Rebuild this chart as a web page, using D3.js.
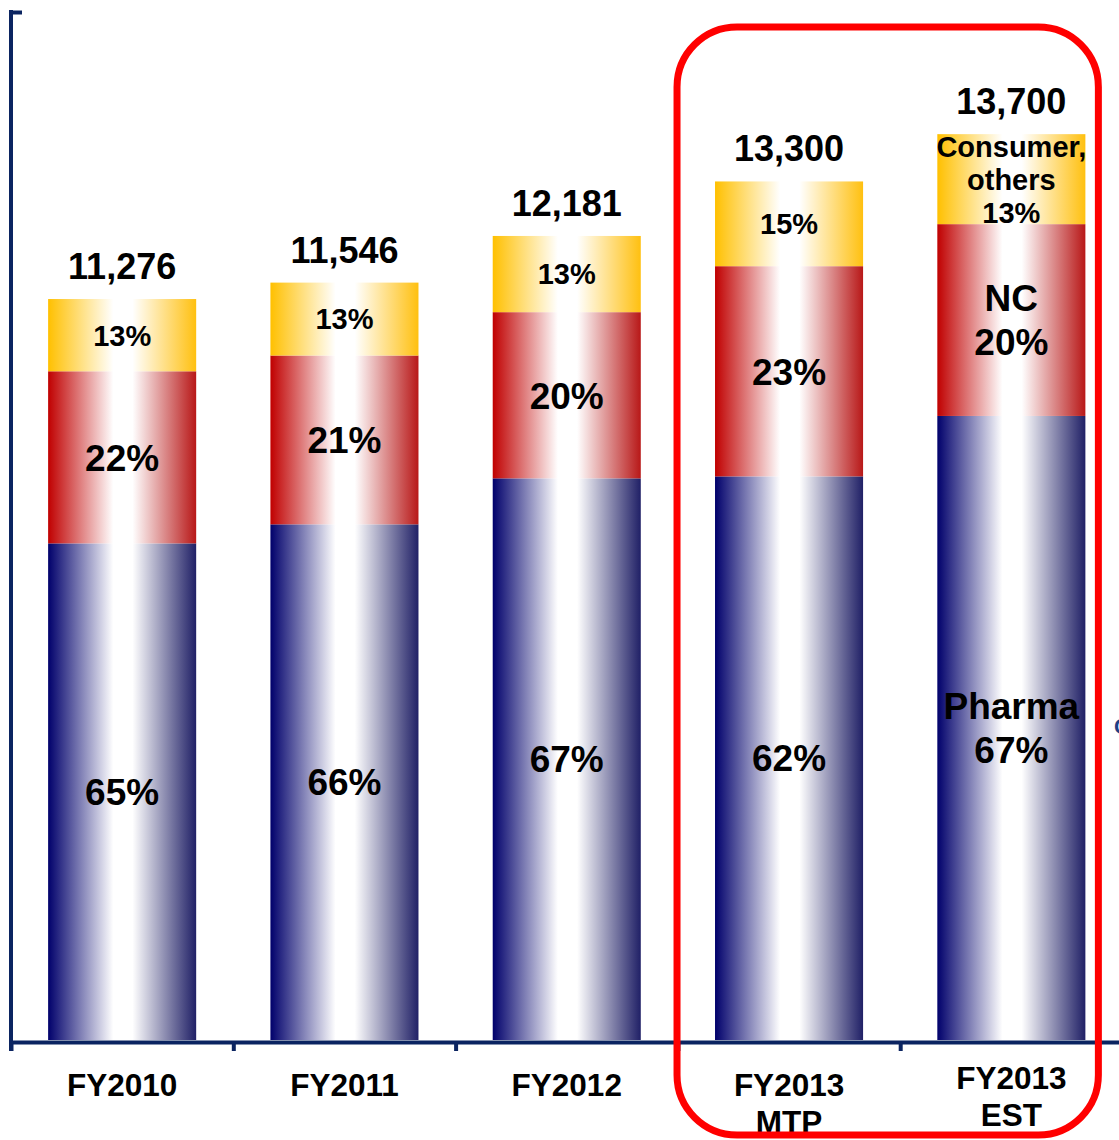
<!DOCTYPE html>
<html>
<head>
<meta charset="utf-8">
<script src="https://cdn.jsdelivr.net/npm/d3@7"></script>
<style>
  body { margin: 0; background: #fff; }
  text { font-family: "Liberation Sans", Arial, sans-serif; font-weight: bold; fill: #000; }
</style>
</head>
<body>
<div id="chart"></div>
<script>
// Data (segment sizes as drawn)
var categories = ["FY2010", "FY2011", "FY2012", "FY2013 MTP", "FY2013 EST"];
var xLabels = [["FY2010"], ["FY2011"], ["FY2012"], ["FY2013", "MTP"], ["FY2013", "EST"]];
var totals = ["11,276", "11,546", "12,181", "13,300", "13,700"];
var pharma = [7560, 7850, 8550, 8580, 9500];
var nc = [2620, 2570, 2530, 3200, 2920];
var consumer = [1100, 1110, 1160, 1290, 1370];
var pharmaLabels = [["65%"], ["66%"], ["67%"], ["62%"], ["Pharma", "67%"]];
var ncLabels = [["22%"], ["21%"], ["20%"], ["23%"], ["NC", "20%"]];
var consumerLabels = [["13%"], ["13%"], ["13%"], ["15%"], ["Consumer,", "others", "13%"]];
var highlighted = ["FY2013 MTP", "FY2013 EST"];

// Layout
var width = 1119;
var height = 1140;
var leftX = 11;
var baseline = 1040;
var topY = 10;
var yMax = 15680;
var step = 222.3;

var svg = d3.select("#chart").append("svg")
  .attr("width", width)
  .attr("height", height);

var x = d3.scaleBand()
  .domain(categories)
  .range([leftX, leftX + categories.length * step])
  .paddingInner(0.334)
  .paddingOuter(0.167);

var y = d3.scaleLinear()
  .domain([0, yMax])
  .range([baseline, topY]);

/* Gradients */
var defs = svg.append("defs");
var gradients = [
  {id: "gBlue", left: "#00006b", right: "#202066"},
  {id: "gRed", left: "#c00000", right: "#b81818"},
  {id: "gYellow", left: "#ffc000", right: "#ffc010"}
];
gradients.forEach(g => {
  var lg = defs.append("linearGradient")
    .attr("id", g.id)
    .attr("x1", "0").attr("x2", "1").attr("y1", "0").attr("y2", "0");
  lg.append("stop").attr("offset", "0").attr("stop-color", g.left);
  lg.append("stop").attr("offset", "0.44").attr("stop-color", "#ffffff");
  lg.append("stop").attr("offset", "0.57").attr("stop-color", "#ffffff");
  lg.append("stop").attr("offset", "1").attr("stop-color", g.right);
});

// stacked series
var rows = categories.map((c, i) => ({cat: c, pharma: pharma[i], nc: nc[i], consumer: consumer[i]}));
var stack = d3.stack().keys(["pharma", "nc", "consumer"]);
var series = stack(rows);
var fills = {pharma: "url(#gBlue)", nc: "url(#gRed)", consumer: "url(#gYellow)"};
var labelSets = {pharma: pharmaLabels, nc: ncLabels, consumer: consumerLabels};
var fontSizes = {pharma: 37, nc: 37, consumer: 29};
var lineHeights = {pharma: 44, nc: 44, consumer: 33};

var bars = svg.append("g").attr("class", "bars");

series.forEach(s => {
  bars.append("g")
    .attr("fill", fills[s.key])
    .selectAll("rect")
    .data(s).enter()
    .append("rect")
    .attr("x", d => x(d.data.cat))
    .attr("y", d => y(d[1]))
    .attr("width", x.bandwidth())
    .attr("height", d => y(d[0]) - y(d[1]));
});

// segment labels
series.forEach(s => {
  var size = fontSizes[s.key];
  var lh = lineHeights[s.key];
  s.forEach((d, i) => {
    var lines = labelSets[s.key][i];
    var center = (y(d[0]) + y(d[1])) / 2;
    var t = svg.append("text")
      .attr("text-anchor", "middle")
      .attr("font-size", size + "px");
    lines.forEach((line, j) => {
      t.append("tspan")
        .attr("x", x(d.data.cat) + x.bandwidth() / 2)
        .attr("y", center + (j - (lines.length - 1) / 2) * lh + size * 0.358)
        .text(line);
    });
  });
});

// totals above bars
svg.append("g").selectAll("text")
  .data(rows).enter()
  .append("text")
  .attr("text-anchor", "middle")
  .attr("font-size", "36px")
  .attr("x", d => x(d.cat) + x.bandwidth() / 2)
  .attr("y", d => y(d.pharma + d.nc + d.consumer) - 20)
  .text((d, i) => totals[i]);

/* Axes */
var axisColor = "#0b2461";
var bounds = d3.scaleLinear().domain([0, categories.length]).range([leftX, leftX + categories.length * step]);

var xAxisGroup = svg.append("g")
  .attr("transform", `translate(0, ${baseline + 2})`)
  .call(d3.axisBottom(bounds).tickValues(d3.range(0, categories.length + 1)).tickSize(9).tickSizeOuter(0).tickFormat(""));
xAxisGroup.select(".domain").attr("stroke", axisColor).attr("stroke-width", 4);
xAxisGroup.selectAll(".tick line").attr("stroke", axisColor).attr("stroke-width", 4);

var yAxisGroup = svg.append("g")
  .attr("transform", `translate(${leftX}, 0)`)
  .call(d3.axisRight(y).tickValues([yMax]).tickSize(11).tickSizeOuter(0).tickFormat(""));
yAxisGroup.select(".domain").remove();
yAxisGroup.selectAll(".tick line").attr("stroke", axisColor).attr("stroke-width", 4).attr("transform", "translate(0,2)");
yAxisGroup.append("line")
  .attr("x1", 0).attr("x2", 0)
  .attr("y1", y(yMax)).attr("y2", baseline + 11)
  .attr("stroke", axisColor).attr("stroke-width", 4);

// category labels
xLabels.forEach((lines, i) => {
  var cx = x(categories[i]) + x.bandwidth() / 2;
  var base = categories[i] === "FY2013 EST" ? 1089 : 1096;
  var t = svg.append("text")
    .attr("text-anchor", "middle")
    .attr("font-size", "31.5px");
  lines.forEach((line, j) => {
    t.append("tspan").attr("x", cx).attr("y", base + j * 37).text(line);
  });
});

/* Highlight box round the FY2013 bars */
var hx0 = x(highlighted[0]) - 38;
var hx1 = x(highlighted[1]) + x.bandwidth() + 13;
svg.append("rect")
  .attr("x", hx0)
  .attr("y", 27)
  .attr("width", hx1 - hx0)
  .attr("height", 1108)
  .attr("rx", 60)
  .attr("ry", 60)
  .attr("fill", "none")
  .attr("stroke", "#ff0000")
  .attr("stroke-width", 7);

// cut-off glyph at the right edge
svg.append("text")
  .attr("x", 1114)
  .attr("y", 734)
  .attr("font-size", "22px")
  .style("fill", "#1f3f85")
  .text("C");
</script>
</body>
</html>
